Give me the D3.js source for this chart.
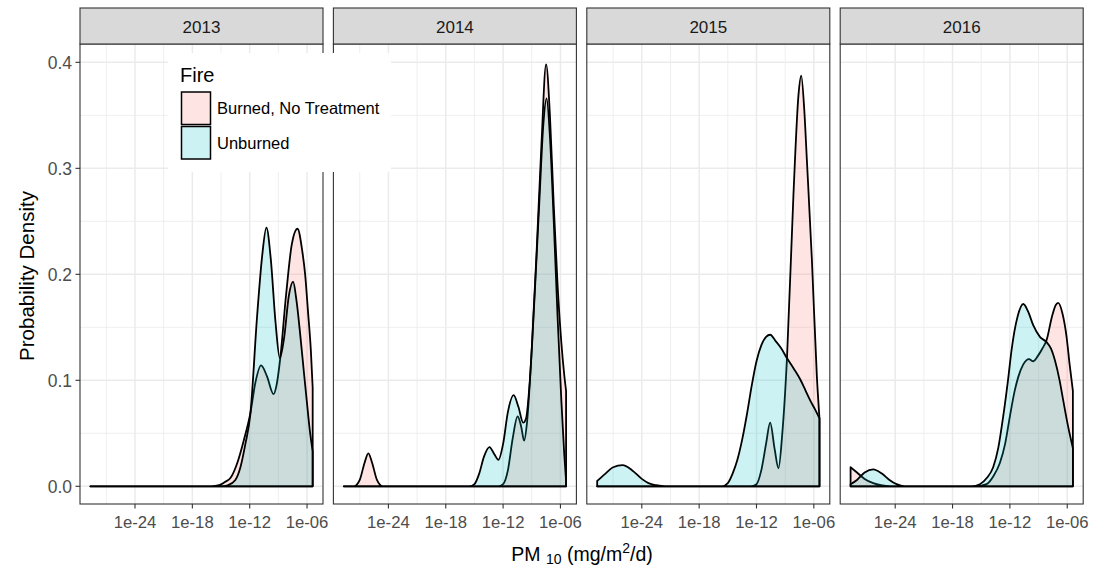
<!DOCTYPE html>
<html>
<head>
<meta charset="utf-8">
<script src="https://cdn.jsdelivr.net/npm/d3@7"></script>
<style>
  html, body { margin: 0; padding: 0; background: #fff; }
  svg { display: block; font-family: "Liberation Sans", Arial, sans-serif; }
</style>
</head>
<body>
<svg id="chart" width="1099" height="568"></svg>
<script>
// ---------------- DATA ----------------
const years = ["2013", "2014", "2015", "2016"];
const groups = ["Burned, No Treatment", "Unburned"];
const groupColors = ["#F8766D", "#00BFC4"];
const xTickExps = [-24, -18, -12, -6];
const xTickLabels = ["1e-24", "1e-18", "1e-12", "1e-06"];
const yTicks = [0.0, 0.1, 0.2, 0.3, 0.4];
const yTickLabels = ["0.0", "0.1", "0.2", "0.3", "0.4"];

// density points: [log10(PM10), density]
const burned2013 = [[-28.67,0],[-16.0,0],[-15.2,0.001],[-14.6,0.004],[-14.0,0.008],[-13.3,0.022],[-12.6,0.044],[-11.93,0.069],[-11.4,0.098],[-10.81,0.114],[-10.2,0.104],[-9.5,0.087],[-9.2,0.095],[-8.8,0.121],[-8.2,0.18],[-7.6,0.228],[-7.0,0.243],[-6.5,0.222],[-6.2,0.2],[-5.9,0.165],[-5.6,0.128],[-5.41,0.093]];
const unburned2013 = [[-28.67,0],[-15.0,0],[-14.3,0.001],[-13.5,0.006],[-12.97,0.018],[-12.45,0.04],[-11.93,0.068],[-11.23,0.16],[-10.7,0.217],[-10.25,0.244],[-9.8,0.215],[-9.3,0.155],[-8.85,0.121],[-8.4,0.14],[-7.9,0.18],[-7.46,0.193],[-7.1,0.175],[-6.69,0.141],[-6.3,0.105],[-6.0,0.078],[-5.7,0.052],[-5.41,0.033]];
const burned2014 = [[-28.67,0],[-27.6,0],[-27.0,0.006],[-26.5,0.022],[-26.1,0.031],[-25.7,0.022],[-25.2,0.006],[-24.6,0],[-12.5,0],[-12.0,0.002],[-11.5,0.015],[-11.0,0.045],[-10.48,0.066],[-10.1,0.056],[-9.8,0.043],[-9.5,0.06],[-9.0,0.13],[-8.5,0.22],[-8.0,0.32],[-7.5,0.398],[-7.1,0.35],[-6.7,0.265],[-6.3,0.19],[-5.9,0.135],[-5.6,0.105],[-5.41,0.09]];
const unburned2014 = [[-28.67,0],[-15.5,0],[-15.0,0.002],[-14.5,0.012],[-14.0,0.028],[-13.43,0.037],[-12.9,0.03],[-12.49,0.025],[-12.0,0.04],[-11.5,0.07],[-10.9,0.086],[-10.4,0.075],[-9.9,0.06],[-9.6,0.064],[-9.2,0.1],[-8.7,0.18],[-8.2,0.27],[-7.8,0.34],[-7.45,0.366],[-7.1,0.33],[-6.7,0.25],[-6.3,0.16],[-5.9,0.08],[-5.6,0.03],[-5.41,0.005]];
const burned2015 = [[-28.67,0],[-12.6,0],[-12.0,0.002],[-11.5,0.015],[-11.0,0.04],[-10.57,0.06],[-10.1,0.035],[-9.7,0.017],[-9.3,0.05],[-8.82,0.119],[-8.13,0.276],[-7.6,0.37],[-7.32,0.3875],[-7.0,0.355],[-6.73,0.308],[-6.2,0.213],[-5.68,0.103],[-5.41,0.064]];
const unburned2015 = [[-28.67,0.005],[-27.8,0.012],[-27.0,0.018],[-26.0,0.02],[-25.0,0.015],[-24.0,0.007],[-23.3,0.003],[-22.5,0.001],[-21.5,0],[-15.6,0],[-15.0,0.003],[-14.5,0.012],[-14.0,0.025],[-13.5,0.044],[-13.0,0.068],[-12.5,0.095],[-12.0,0.118],[-11.5,0.133],[-11.0,0.141],[-10.57,0.143],[-10.0,0.137],[-9.4,0.13],[-8.82,0.121],[-8.1,0.111],[-7.43,0.101],[-6.9,0.091],[-6.38,0.081],[-5.9,0.073],[-5.41,0.064]];
const burned2016 = [[-28.67,0.018],[-28.0,0.013],[-27.2,0.007],[-26.3,0.003],[-25.5,0.001],[-24.5,0],[-15.5,0],[-14.44,0.002],[-13.7,0.01],[-13.05,0.022],[-12.5,0.04],[-12.0,0.066],[-11.5,0.09],[-11.13,0.103],[-10.6,0.115],[-10.0,0.12],[-9.56,0.118],[-9.0,0.124],[-8.6,0.13],[-8.16,0.138],[-7.6,0.16],[-7.2,0.171],[-6.95,0.173],[-6.5,0.163],[-6.07,0.141],[-5.75,0.115],[-5.41,0.09]];
const unburned2016 = [[-28.67,0.002],[-28.0,0.006],[-27.2,0.013],[-26.3,0.016],[-25.4,0.012],[-24.6,0.006],[-23.86,0.002],[-23.0,0],[-16.0,0],[-15.14,0.002],[-14.4,0.008],[-13.75,0.018],[-13.2,0.037],[-12.7,0.066],[-12.2,0.1],[-11.82,0.129],[-11.2,0.16],[-10.6,0.172],[-10.1,0.165],[-9.56,0.152],[-8.86,0.141],[-8.16,0.136],[-7.7,0.13],[-7.29,0.119],[-6.8,0.1],[-6.42,0.081],[-5.9,0.056],[-5.41,0.036]];

const seriesByYear = [
  [burned2013, unburned2013],
  [burned2014, unburned2014],
  [burned2015, unburned2015],
  [burned2016, unburned2016]
];

// ---------------- LAYOUT ----------------
const svg = d3.select("#chart");
const W = 1099, H = 568;
const panelLeft0 = 80, panelStep = 253.4, panelW = 243;
const stripTop = 8, panelTop = 44, panelBottom = 504;
const gridCol = "#ebebeb", borderCol = "#333333", tickTextCol = "#4d4d4d";

const x = d3.scaleLog()
  .domain([Math.pow(10, -29.756), Math.pow(10, -4.33)])
  .range([0, panelW]);
const y = d3.scaleLinear()
  .domain([-0.0167, 0.4173])
  .range([panelBottom, panelTop]);

const minorXExps = [-27, -21, -15, -9];
const minorY = [0.05, 0.15, 0.25, 0.35];

svg.append("rect").attr("width", W).attr("height", H).attr("fill", "#fff");

const defs = svg.append("defs");

years.forEach((yr, i) => {
  const left = panelLeft0 + i * panelStep;
  const g = svg.append("g").attr("transform", `translate(${left},0)`);

  defs.append("clipPath").attr("id", "clip" + i)
    .append("rect").attr("x", -1).attr("y", panelTop).attr("width", panelW + 2).attr("height", panelBottom - panelTop);

  // grid
  const grid = g.append("g");
  minorY.forEach(v => grid.append("line")
    .attr("x1", 0).attr("x2", panelW).attr("y1", y(v)).attr("y2", y(v))
    .attr("stroke", gridCol).attr("stroke-width", 0.8));
  minorXExps.forEach(e => grid.append("line")
    .attr("x1", x(Math.pow(10, e))).attr("x2", x(Math.pow(10, e)))
    .attr("y1", panelTop).attr("y2", panelBottom)
    .attr("stroke", gridCol).attr("stroke-width", 0.8));
  yTicks.forEach(v => grid.append("line")
    .attr("x1", 0).attr("x2", panelW).attr("y1", y(v)).attr("y2", y(v))
    .attr("stroke", gridCol).attr("stroke-width", 1.5));
  xTickExps.forEach(e => grid.append("line")
    .attr("x1", x(Math.pow(10, e))).attr("x2", x(Math.pow(10, e)))
    .attr("y1", panelTop).attr("y2", panelBottom)
    .attr("stroke", gridCol).attr("stroke-width", 1.5));

  // densities
  const area = d3.area()
    .x(d => x(Math.pow(10, d[0])))
    .y0(y(0))
    .y1(d => y(d[1]))
    .curve(d3.curveMonotoneX);
  const plot = g.append("g").attr("clip-path", `url(#clip${i})`);
  seriesByYear[i].forEach((s, k) => {
    plot.append("path")
      .attr("d", area(s) + "Z")
      .attr("fill", groupColors[k])
      .attr("fill-opacity", 0.2)
      .attr("stroke", "#000")
      .attr("stroke-width", 1.8)
      .attr("stroke-linejoin", "round");
  });

  // panel border
  g.append("rect").attr("x", 0).attr("y", panelTop).attr("width", panelW).attr("height", panelBottom - panelTop)
    .attr("fill", "none").attr("stroke", borderCol).attr("stroke-width", 1.1);

  // strip
  g.append("rect").attr("x", 0).attr("y", stripTop).attr("width", panelW).attr("height", panelTop - stripTop)
    .attr("fill", "#d9d9d9").attr("stroke", borderCol).attr("stroke-width", 1.1);
  g.append("text").attr("x", panelW / 2).attr("y", 33)
    .attr("text-anchor", "middle").attr("font-size", 17).attr("fill", "#1a1a1a").text(yr);

  // x axis
  const xAxis = g.append("g");
  xTickExps.forEach((e, j) => {
    const px = x(Math.pow(10, e));
    xAxis.append("line").attr("x1", px).attr("x2", px).attr("y1", panelBottom).attr("y2", panelBottom + 4.5)
      .attr("stroke", borderCol).attr("stroke-width", 1.1);
    xAxis.append("text").attr("x", px).attr("y", 528)
      .attr("text-anchor", "middle").attr("font-size", 16.7).attr("fill", tickTextCol).text(xTickLabels[j]);
  });

  // y axis on first panel
  if (i === 0) {
    yTicks.forEach((v, j) => {
      g.append("line").attr("x1", -4.5).attr("x2", 0).attr("y1", y(v)).attr("y2", y(v))
        .attr("stroke", borderCol).attr("stroke-width", 1.1);
      g.append("text").attr("x", -8).attr("y", y(v)).attr("dy", "0.36em")
        .attr("text-anchor", "end").attr("font-size", 17.5).attr("fill", tickTextCol).text(yTickLabels[j]);
    });
  }
});

// axis titles
const xt = svg.append("text").attr("x", 582).attr("y", 561).attr("text-anchor", "middle")
  .attr("font-size", 19.5).attr("fill", "#000");
xt.append("tspan").text("PM ");
xt.append("tspan").attr("font-size", 14).attr("dy", 3).text("10");
xt.append("tspan").attr("dy", -3).text(" (mg/m");
xt.append("tspan").attr("font-size", 14).attr("dy", -8).text("2");
xt.append("tspan").attr("dy", 8).text("/d)");

svg.append("text").attr("transform", "translate(33.5,276) rotate(-90)")
  .attr("text-anchor", "middle").attr("font-size", 20.5).attr("fill", "#000").text("Probability Density");

// legend
const lg = svg.append("g");
lg.append("rect").attr("x", 168).attr("y", 53).attr("width", 223).attr("height", 119).attr("fill", "#fff");
lg.append("text").attr("x", 180).attr("y", 82).attr("font-size", 20).attr("fill", "#000").text("Fire");
groups.forEach((name, k) => {
  const ky = 92 + k * 34.5;
  lg.append("rect").attr("x", 181.5).attr("y", ky).attr("width", 29).attr("height", 32.5)
    .attr("fill", groupColors[k]).attr("fill-opacity", 0.2)
    .attr("stroke", "#000").attr("stroke-width", 1.5);
  lg.append("text").attr("x", 217).attr("y", ky + 16.5).attr("dy", "0.36em")
    .attr("font-size", 16.5).attr("fill", "#000").text(name);
});
</script>
</body>
</html>
